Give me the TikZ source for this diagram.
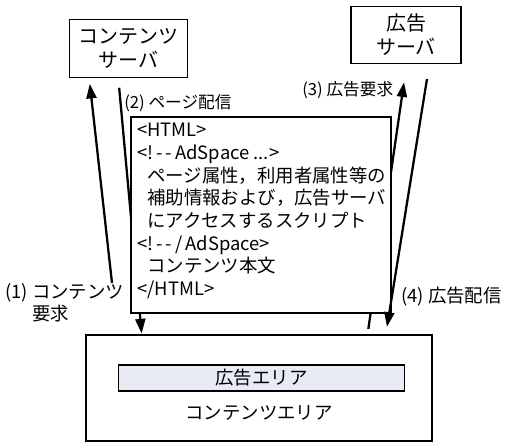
\documentclass[tikz,border=0pt]{standalone}
\usepackage{fontspec}
\setmainfont{Noto Sans CJK JP}
\usetikzlibrary{arrows.meta}
\definecolor{adfill}{RGB}{232,234,246}
\begin{document}
\begin{tikzpicture}[x=0.75pt,y=-0.75pt,
	server/.style={draw,line width=0.9pt,minimum height=43pt,align=center,inner sep=0pt,font=\fontsize{15}{18}\selectfont},
	flow/.style={line width=1.7pt,-{Triangle[length=11pt,width=7.5pt]}},
	lbl/.style={inner sep=0pt,font=\fontsize{12.5}{16}\selectfont},
	biglbl/.style={lbl,font=\fontsize{13.8}{17}\selectfont},
	body/.style={font=\fontsize{13.8}{17}\selectfont}]
		\useasboundingbox (0,0) rectangle (513,447);
		\node[server,minimum width=88pt] (cs) at (128.5,48.5) {コンテンツ\\サーバ};
		\node[server,minimum width=82.5pt] (as) at (406,35) {広告\\サーバ};
		\node[draw,line width=2.2pt,minimum width=259.5pt,minimum height=79.5pt] (page) at (259,388) {};
		\node[draw,fill=adfill,line width=0.8pt,minimum width=215pt,minimum height=19.5pt,inner sep=0pt,body] (adarea) at (261.5,378) {広告エリア};
		\node[body] (carea) at (259,413) {コンテンツエリア};
		\coordinate (c1) at (112,283);
		\draw[flow] ([xshift=-7pt,yshift=-7.5pt]cs.south) -- ([xshift=-88pt]page.north);
		\draw[flow] ([xshift=82pt,yshift=3.5pt]page.north) -- ([xshift=-1.5pt,yshift=-13.5pt]as.south);
		\node[draw,fill=white,line width=0.9pt,minimum width=195pt,minimum height=147pt] (html) at (261,215) {};
		\node[anchor=north west,align=left,inner sep=0pt,body] (code) at (137,123) {<HTML>\\
			<!\,-\,-\,AdSpace ...>\\
			\hspace*{7.5pt}ページ属性，利用者属性等の\\
			\hspace*{7.5pt}補助情報および，広告サーバ\\
			\hspace*{7.5pt}にアクセスするスクリプト\\
			<!\,-\,-\,/\,AdSpace>\\
			\hspace*{7.5pt}コンテンツ本文\\
			</HTML>};
		\draw[flow] (c1) -- ([xshift=-29pt,yshift=-4.5pt]cs.south);
		\draw[flow] ([xshift=15.75pt,yshift=-11pt]as.south) -- ([xshift=96pt,yshift=5pt]page.north);
		\node[lbl,anchor=west] (l2) at (124,103) {(2)\ ページ配信};
		\node[lbl,anchor=west] (l3) at (302,90) {(3)\ 広告要求};
		\node[biglbl,anchor=west] (l4) at (401,297) {(4)\ 広告配信};
		\node[biglbl,anchor=north west] (l1) at (5,282) {\begin{tabular}{@{}l@{\ }l@{}}(1)&コンテンツ\\&要求\end{tabular}};
	\end{tikzpicture}
\end{document}
